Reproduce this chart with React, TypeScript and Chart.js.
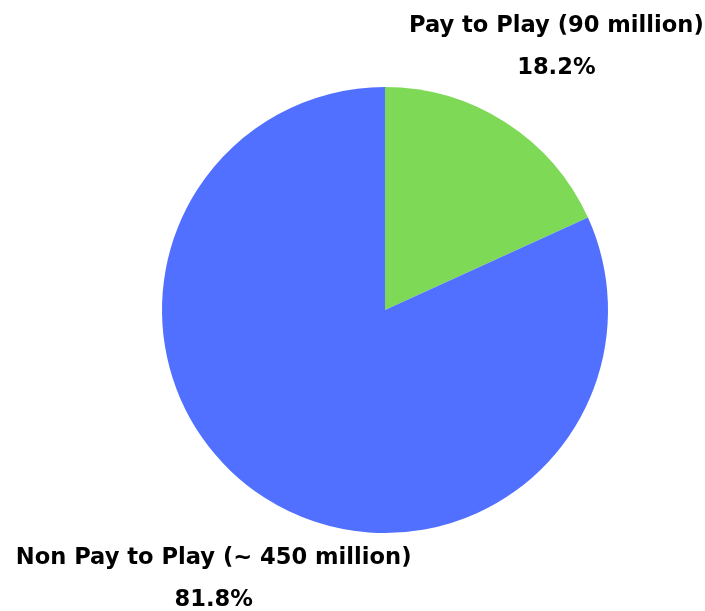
import React, { useEffect, useRef } from "react";
import { Chart, registerables } from "chart.js";

Chart.register(...registerables);

const categories = ["Pay to Play (90 million)", "Non Pay to Play (~ 450 million)"];
const values = [18.2, 81.8];
const percentLabels = ["18.2%", "81.8%"];
const colors = ["#7ED957", "#5170FF"];

const labelPlugin = {
  id: "outerLabels",
  afterDatasetsDraw(chart: any) {
    const { ctx } = chart;
    const meta = chart.getDatasetMeta(0);
    ctx.save();
    ctx.fillStyle = "#000";
    ctx.textAlign = "center";
    ctx.textBaseline = "middle";
    ctx.font = "bold 22.6px 'DejaVu Sans', sans-serif";
    meta.data.forEach((arc: any, i: number) => {
      const mid = (arc.startAngle + arc.endAngle) / 2;
      const d = arc.outerRadius * 1.42;
      const x = arc.x + Math.cos(mid) * d;
      const y = arc.y + Math.sin(mid) * d + 3;
      ctx.fillText(categories[i], x, y - 21);
      ctx.fillText(percentLabels[i], x, y + 21);
    });
    ctx.restore();
  },
};

export default function App() {
  const ref = useRef<HTMLCanvasElement>(null);
  useEffect(() => {
    if (!ref.current) return;
    const chart = new Chart(ref.current, {
      type: "pie",
      data: {
        labels: categories,
        datasets: [
          {
            data: values,
            backgroundColor: colors,
            borderWidth: 0,
          },
        ],
      },
      options: {
        animation: false,
        responsive: false,
        layout: { padding: { top: 87, bottom: 78, left: 162, right: 97 } },
        plugins: { legend: { display: false }, tooltip: { enabled: false } },
      },
      plugins: [labelPlugin],
    });
    return () => chart.destroy();
  }, []);
  return (
    <div style={{ position: "fixed", left: 0, top: 0, width: 705, height: 611, background: "#fff" }}>
      <canvas ref={ref} width={705} height={611} style={{ width: 705, height: 611 }} />
    </div>
  );
}
